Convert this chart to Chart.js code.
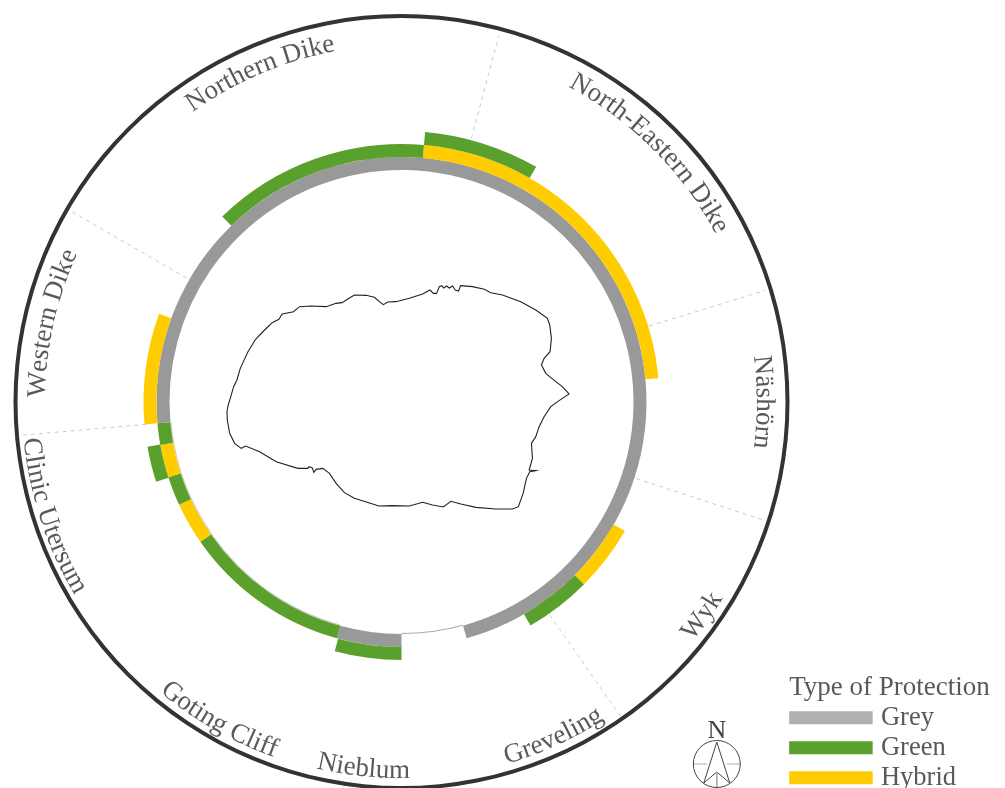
<!DOCTYPE html>
<html>
<head>
<meta charset="utf-8">
<title>Type of Protection</title>
<script src="https://cdn.jsdelivr.net/npm/chart.js@4/dist/chart.umd.min.js"></script>
<style>
html, body { margin: 0; padding: 0; background: #fff; overflow: hidden; }
canvas { display: block; position: absolute; left: 0; top: 0; }
</style>
</head>
<body>
<canvas id="ringChart" width="1005" height="788"></canvas>
<canvas id="mapChart" width="1005" height="788"></canvas>
<script>
// Spans are degrees clockwise, each ring starts at its own bearing so no seam lands on a solid stretch
const innerStart = 164.6;
const innerSpans = [15.4, 15.3, 39.9, 10, 6.9, 7.8, 5.1, 259.6];
const innerKinds = ["None", "Grey", "Green", "Hybrid", "Green", "Hybrid", "Green", "Grey"];
const middleStart = 5;
const middleSpans = [79.7, 35.3, 15, 15, 30, 15, 57, 8, 5, 25, 26, 49];
const middleKinds = ["Hybrid", "None", "Hybrid", "Green", "None", "Green", "None", "Green", "None", "Hybrid", "None", "Green"];
const outerStart = 5;
const outerSpans = [24.8, 335.2];
const outerKinds = ["Green", "None"];
// Hairline left under the gap and along the green stretches
const hairStart = 164.6;
const hairSpans = [15.4, 15.3, 69.7, 259.6];
const hairKinds = ["Line", "None", "Fringe", "None"];

const legendKinds = ["Grey", "Green", "Hybrid"];

// Section borders: bearing and where the dashed line starts and stops
const dividerBearings = [15, 73, 108, 145, 265, 300];
const dividerStarts = [273, 260, 248, 260, 256, 248];
const dividerEnds = [379, 382, 382, 386, 382, 382];

// Section names: text, bearing of its middle, baseline radius, reading direction
const sectionNames = ["Northern Dike", "North-Eastern Dike", "Näshörn", "Wyk", "Greveling", "Nieblum", "Goting Cliff", "Clinic Utersum", "Western Dike"];
const sectionBearings = [336.9, 45, 90, 125.5, 155.5, 185.8, 209.7, 251.9, 282.5];
const sectionRadii = [357, 357, 356, 377, 377, 376, 377, 379, 356];
const sectionClockwise = [true, true, true, false, false, false, false, false, true];

// Island coastline, in map units
const coastX = [22, 25, 32, 42, 52, 62, 85, 108, 135, 158, 178, 188, 222, 240, 275, 320, 350, 368, 385, 405, 440, 465, 480, 492, 505, 530, 570, 610, 632, 642, 652, 660, 668, 673, 682, 690, 700, 708, 718, 724, 760, 795, 815, 850, 905, 950, 985, 992, 997, 993, 975, 967, 980, 1010, 1030, 1050, 1020, 995, 975, 960, 950, 937, 940, 930, 950, 932, 922, 912, 903, 898, 880, 830, 770, 725, 695, 672, 640, 610, 570, 520, 478, 460, 405, 375, 350, 330, 310, 290, 283, 278, 268, 265, 235, 170, 120, 78, 65, 45, 30, 23, 22];
const coastY = [395, 378, 355, 320, 300, 265, 215, 178, 150, 128, 118, 102, 95, 80, 78, 80, 70, 68, 57, 45, 46, 52, 65, 74, 66, 65, 55, 42, 30, 40, 40, 20, 17, 24, 18, 24, 18, 30, 33, 17, 20, 28, 38, 45, 65, 90, 115, 135, 175, 215, 235, 255, 280, 305, 320, 342, 362, 380, 410, 440, 470, 490, 535, 570, 572, 575, 595, 640, 665, 680, 687, 687, 682, 672, 664, 681, 675, 667, 678, 677, 678, 672, 655, 638, 610, 580, 565, 568, 577, 563, 560, 565, 565, 545, 515, 498, 505, 490, 460, 420, 395];

// North arrow
const compassCentre = [316.5, -362];
const compassArrowX = [303.5, 316.5, 329.5, 316.5, 303.5];
const compassArrowY = [-381, -340, -381, -370, -381];

const colors = { Grey: "#999999", Green: "#5aa02c", Hybrid: "#ffcc00", None: "rgba(0,0,0,0)", Line: "#aaaaaa", Fringe: "#c8c8c8" };
const legendColors = { Grey: "#b0b0b0", Green: "#5aa02c", Hybrid: "#ffcc00" };
const textColor = "#595959";

function ring(start, spans, kinds, weight) {
    return { rotation: start, data: spans, backgroundColor: kinds.map(k => colors[k]), weight: weight };
}

function solidRing(color, weight) {
    return { data: [360], backgroundColor: [color], weight: weight };
}

function lineSet(points, color, width, dash, xAxisID, yAxisID) {
    return {
        showLine: true,
        data: points,
        borderColor: color,
        borderWidth: width,
        borderDash: dash,
        pointRadius: 0,
        clip: false,
        xAxisID: xAxisID,
        yAxisID: yAxisID
    };
}

// Rings first, the outer black circle is just the thinnest ring
new Chart(document.getElementById("ringChart"), {
    type: "doughnut",
    data: {
        datasets: [
            solidRing("#333333", 4),
            solidRing("rgba(0,0,0,0)", 113),
            ring(outerStart, outerSpans, outerKinds, 13),
            ring(middleStart, middleSpans, middleKinds, 13),
            ring(innerStart, innerSpans, innerKinds, 13),
            ring(hairStart, hairSpans, hairKinds, 1)
        ]
    },
    options: {
        responsive: false,
        animation: false,
        events: [],
        radius: 388,
        cutout: "59.536%",
        borderWidth: 0,
        layout: { padding: { left: 12.5, top: 16, right: 214.5, bottom: 0 } },
        plugins: { legend: { display: false }, tooltip: { enabled: false } }
    }
});

const mapDatasets = [];

dividerBearings.forEach((bearing, i) => {
    const a = bearing * Math.PI / 180;
    const points = [dividerStarts[i], dividerEnds[i]].map(r => ({ x: r * Math.sin(a), y: r * Math.cos(a) }));
    mapDatasets.push(lineSet(points, "#cccccc", 1, [4, 4], "x", "y"));
});

mapDatasets.push(lineSet(coastX.map((x, i) => ({ x: x, y: coastY[i] })), "#222222", 1.1, [], "mapX", "mapY"));

// Compass: ring, cross hairs and arrow
mapDatasets.push({
    data: [{ x: compassCentre[0], y: compassCentre[1] }],
    pointRadius: 23.5,
    pointBackgroundColor: "rgba(0,0,0,0)",
    pointBorderColor: "#444444",
    pointBorderWidth: 1,
    clip: false,
    xAxisID: "x",
    yAxisID: "y"
});
[[-23.5, -10], [10, 23.5]].forEach(seg => {
    const points = seg.map(dx => ({ x: compassCentre[0] + dx, y: compassCentre[1] }));
    mapDatasets.push(lineSet(points, "#aaaaaa", 1, [], "x", "y"));
});
mapDatasets.push(lineSet([{ x: compassCentre[0], y: -370 }, { x: compassCentre[0], y: -386 }], "#aaaaaa", 1, [], "x", "y"));
mapDatasets.push(lineSet(compassArrowX.map((x, i) => ({ x: x, y: compassArrowY[i] })), "#444444", 1, [], "x", "y"));

// Curved labels round the circle, letter by letter
const sectionLabels = {
    id: "sectionLabels",
    afterLayout(chart) {
        // legend clips to its box and the title is wider than the items, also nudge it down
        chart.legend.right = chart.width;
        chart.legend.bottom += 6.5;
    },
    afterDatasetsDraw(chart) {
        const { ctx, scales } = chart;
        const cx = scales.x.getPixelForValue(0);
        const cy = scales.y.getPixelForValue(0);
        ctx.save();
        ctx.font = '27px "Liberation Serif"';
        ctx.fillStyle = textColor;
        ctx.textAlign = "center";
        ctx.textBaseline = "alphabetic";
        sectionNames.forEach((name, i) => {
            const r = sectionRadii[i];
            const sign = sectionClockwise[i] ? 1 : -1;
            const total = ctx.measureText(name).width;
            let run = -total / 2;
            for (const ch of name) {
                const w = ctx.measureText(ch).width;
                const angle = sectionBearings[i] * Math.PI / 180 + sign * (run + w / 2) / r;
                ctx.save();
                ctx.translate(cx + r * Math.sin(angle), cy - r * Math.cos(angle));
                ctx.rotate(sectionClockwise[i] ? angle : angle + Math.PI);
                ctx.fillText(ch, 0, 0);
                ctx.restore();
                run += w;
            }
        });
        ctx.font = '26px "Liberation Serif"';
        ctx.fillStyle = "#444444";
        ctx.fillText("N", scales.x.getPixelForValue(compassCentre[0]), scales.y.getPixelForValue(-336));
        ctx.restore();
    }
};

new Chart(document.getElementById("mapChart"), {
    type: "scatter",
    data: { datasets: mapDatasets },
    plugins: [sectionLabels],
    options: {
        responsive: false,
        animation: false,
        events: [],
        layout: { autoPadding: false, padding: { left: 12.5, top: 16, right: 39, bottom: 0 } },
        scales: {
            x: { type: "linear", display: false, min: -389, max: 389 },
            y: { type: "linear", display: false, min: -386, max: 386 },
            mapX: { type: "linear", axis: "x", display: false, min: -622.5, max: 1711.5 },
            mapY: { type: "linear", axis: "y", display: false, reverse: true, min: -792, max: 1524 }
        },
        plugins: {
            tooltip: { enabled: false },
            legend: {
                display: true,
                position: "right",
                align: "end",
                title: {
                    display: true,
                    text: "Type of Protection",
                    position: "start",
                    color: textColor,
                    font: { family: "Liberation Serif", size: 27, lineHeight: 1 },
                    padding: { top: 0, bottom: 0 }
                },
                labels: {
                    boxWidth: 75,
                    boxHeight: 3,
                    padding: 3.5,
                    color: textColor,
                    font: { family: "Liberation Serif", size: 26.5 },
                    generateLabels: () => legendKinds.map(kind => ({
                        text: kind,
                        fillStyle: legendColors[kind],
                        strokeStyle: legendColors[kind],
                        lineWidth: 10,
                        hidden: false
                    }))
                }
            }
        }
    }
});
</script>
</body>
</html>
